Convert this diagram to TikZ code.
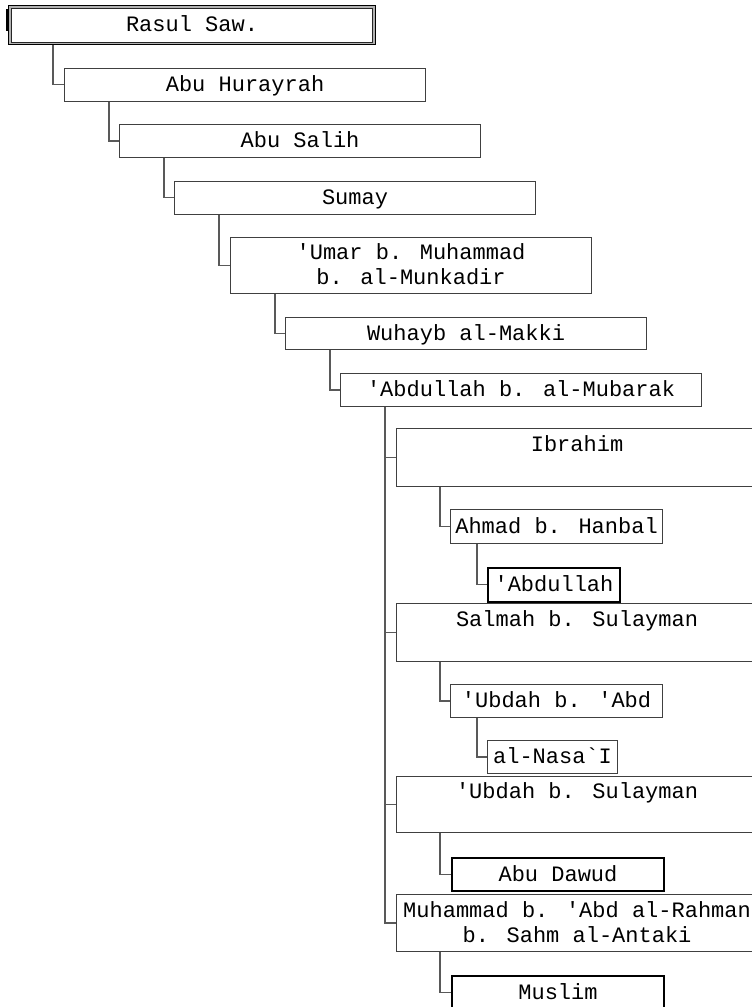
\documentclass[tikz,border=0pt]{standalone}
\usepackage{fontspec}
\newfontfamily\monof{Liberation Mono}
\newcommand\capfirst[1]{\rule{0pt}{13.5pt}\smash{#1}}
\newcommand\capnext[1]{\smash{#1}}
\tikzset{
  every node/.style={font=\monof\fontsize{22}{25}\selectfont},
  box/.style={draw=black!75, line width=1.1pt, fill=white, inner sep=0pt,
    minimum width=361pt, align=center, anchor=north west},
  smallbox/.style={box, minimum width=212pt},
  thickbox/.style={box, draw=black, line width=2pt},
  rasulbox/.style={box, minimum width=367pt, minimum height=39pt, draw=black, fill=black!30,
    path picture={\draw[black!85, fill=white, line width=1pt]
      ([xshift=3pt,yshift=-2.5pt]path picture bounding box.north west) rectangle
      ([xshift=-3pt,yshift=2.5pt]path picture bounding box.south east);}},
  conn/.style={draw=black!65, line width=1.2pt},
}
\begin{document}
\begin{tikzpicture}[x=1pt,y=-1pt]
\useasboundingbox (0,0) rectangle (752,1007);
% chain
\node[rasulbox] (rasul) at (8,5) {\capfirst{Rasul Saw.}};
\fill[black] (5.5,9) rectangle (8,31);
\node[box, minimum height=33pt] (hur) at (64,67.5) {\capfirst{Abu Hurayrah}};
\node[box, minimum height=33pt] (salih) at (119,124) {\capfirst{Abu Salih}};
\node[box, minimum height=33pt] (sumay) at (174,180.5) {\capfirst{Sumay}};
\node[box, minimum height=56pt] (umar) at (230,237) {\capfirst{'Umar b. Muhammad}\\\capnext{b. al-Munkadir}};
\node[box, minimum height=32pt] (wuhayb) at (285,317) {\capfirst{Wuhayb al-Makki}};
\node[box, minimum height=33pt] (mubarak) at (340,373) {\capfirst{'Abdullah b. al-Mubarak}};
% branches
\node[box, minimum height=58pt] (ibrahim) at (396,428) {\capfirst{Ibrahim}\\\mbox{}};
\node[smallbox, minimum height=34pt] (ahmad) at (450,509) {\capfirst{Ahmad b. Hanbal}};
\node[thickbox, minimum width=132pt, minimum height=34.5pt] (abdullah) at (487,566.5) {\capfirst{'Abdullah}};
\node[box, minimum height=58pt] (salmah) at (396,603) {\capfirst{Salmah b. Sulayman}\\\mbox{}};
\node[smallbox, minimum height=33pt] (ubdahabd) at (450,684) {\capfirst{'Ubdah b. 'Abd}};
\node[box, minimum width=130pt, minimum height=33pt] (nasai) at (487,740) {\capfirst{al-Nasa`I}};
\node[box, minimum height=56pt] (ubdahsul) at (396,776) {\capfirst{'Ubdah b. Sulayman}\\\mbox{}};
\node[thickbox, minimum width=212pt, minimum height=33pt] (abudawud) at (451,857) {\capfirst{Abu Dawud}};
\node[box, minimum height=57pt] (muhammad) at (396,894) {\capfirst{Muhammad b. 'Abd al-Rahman}\\\capnext{b. Sahm al-Antaki}};
\node[thickbox, minimum width=212pt, minimum height=33pt] (muslim) at (451,975) {\capfirst{Muslim}};
% connectors
\draw[conn] ([xshift=45pt]rasul.south west) |- (hur.west);
\draw[conn] ([xshift=45pt]hur.south west) |- (salih.west);
\draw[conn] ([xshift=45pt]salih.south west) |- (sumay.west);
\draw[conn] ([xshift=45pt]sumay.south west) |- (umar.west);
\draw[conn] ([xshift=45pt]umar.south west) |- (wuhayb.west);
\draw[conn] ([xshift=45pt]wuhayb.south west) |- (mubarak.west);
\draw[conn] ([xshift=45pt]mubarak.south west) |- (muhammad.west);
\draw[conn] ([xshift=45pt]mubarak.south west) |- (ibrahim.west);
\draw[conn] ([xshift=45pt]mubarak.south west) |- (salmah.west);
\draw[conn] ([xshift=45pt]mubarak.south west) |- (ubdahsul.west);
\draw[conn] ([xshift=44pt]ibrahim.south west) |- (ahmad.west);
\draw[conn] ([xshift=27pt]ahmad.south west) |- (abdullah.west);
\draw[conn] ([xshift=44pt]salmah.south west) |- (ubdahabd.west);
\draw[conn] ([xshift=27pt]ubdahabd.south west) |- (nasai.west);
\draw[conn] ([xshift=44pt]ubdahsul.south west) |- (abudawud.west);
\draw[conn] ([xshift=44pt]muhammad.south west) |- (muslim.west);
\end{tikzpicture}
\end{document}
